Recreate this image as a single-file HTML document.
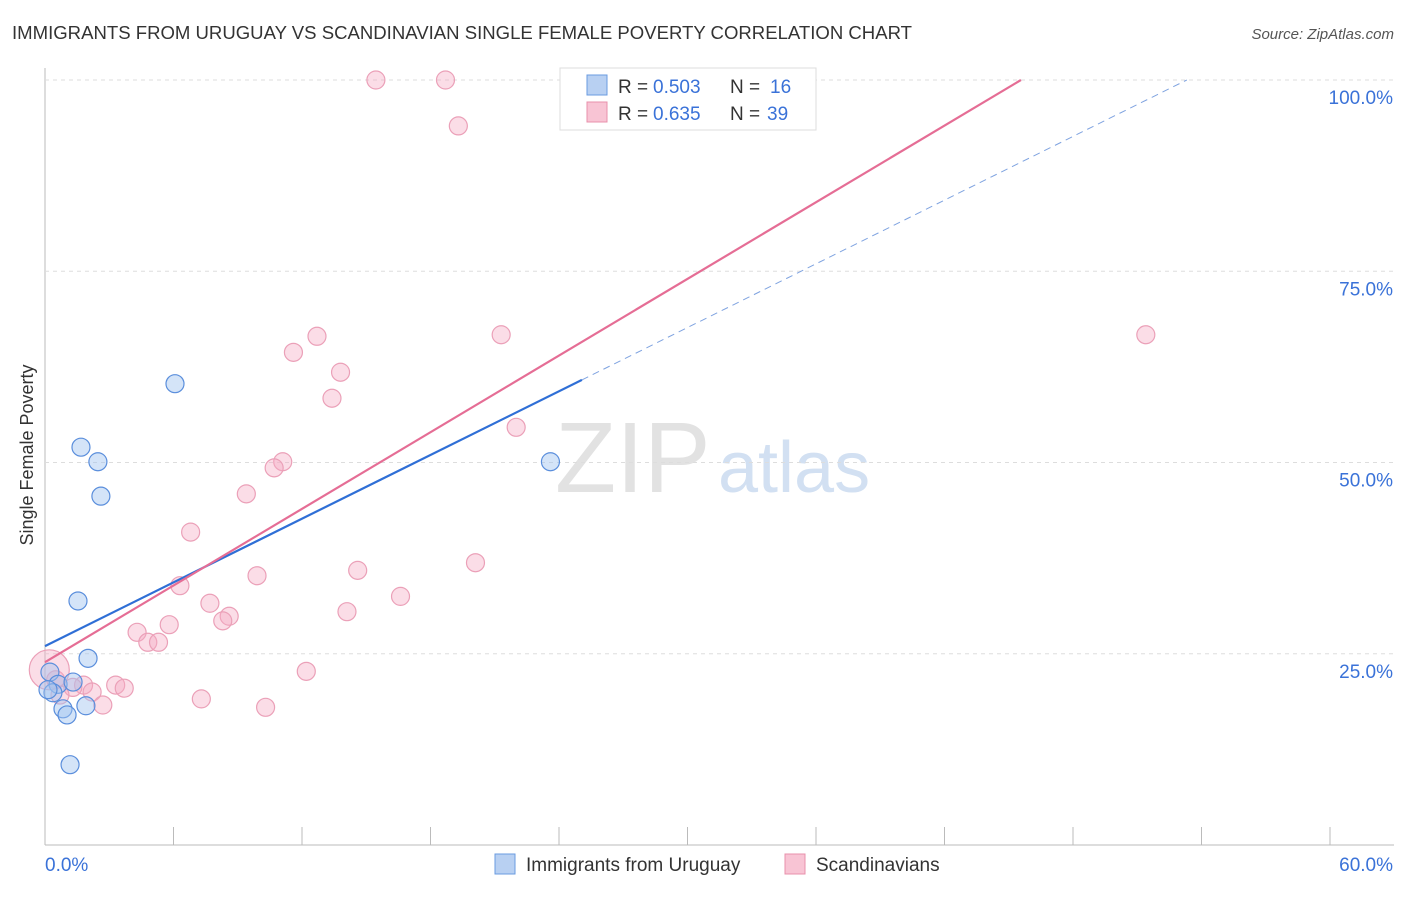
<!DOCTYPE html>
<html><head><meta charset="utf-8"><style>
body{margin:0;background:#fff;font-family:"Liberation Sans",sans-serif;}
svg text{font-family:"Liberation Sans",sans-serif;}
</style></head><body>
<svg id="c" width="1406" height="892">
<text x="12" y="39" font-size="18" fill="#333" textLength="900" lengthAdjust="spacingAndGlyphs">IMMIGRANTS FROM URUGUAY VS SCANDINAVIAN SINGLE FEMALE POVERTY CORRELATION CHART</text>
<text x="1394" y="39" font-size="15" fill="#555" font-style="italic" text-anchor="end">Source: ZipAtlas.com</text>
<text x="33" y="455" font-size="18" fill="#333" text-anchor="middle" transform="rotate(-90 33 455)">Single Female Poverty</text>
<text x="555" y="492" font-size="100" fill="#e2e2e2" font-family="Liberation Serif,serif">ZIP</text>
<text x="718" y="492" font-size="72" fill="#d2e0f2">atlas</text>
<g id="grid"></g><g id="marks"></g>
<g>
<rect x="560" y="68" width="256" height="62" fill="#fff" stroke="#ddd"/>
<rect x="587" y="75" width="20" height="20" fill="#b8d0f2" stroke="#6a9be0"/>
<rect x="587" y="102" width="20" height="20" fill="#f8c4d4" stroke="#e890ab"/>
<text x="618" y="93" font-size="19" fill="#333">R = </text><text x="653" y="93" font-size="19" fill="#3a72d8">0.503</text>
<text x="730" y="93" font-size="19" fill="#333">N = </text><text x="770" y="93" font-size="19" fill="#3a72d8">16</text>
<text x="618" y="120" font-size="19" fill="#333">R = </text><text x="653" y="120" font-size="19" fill="#3a72d8">0.635</text>
<text x="730" y="120" font-size="19" fill="#333">N = </text><text x="767" y="120" font-size="19" fill="#3a72d8">39</text>
</g>
<g>
<rect x="495" y="854" width="20" height="20" fill="#b8d0f2" stroke="#6a9be0"/>
<text x="526" y="871" font-size="19" fill="#333">Immigrants from Uruguay</text>
<rect x="785" y="854" width="20" height="20" fill="#f8c4d4" stroke="#e890ab"/>
<text x="816" y="871" font-size="19" fill="#333">Scandinavians</text>
</g>
</svg>
<script>
const xTicks=[0,6,12,18,24,30,36,42,48,54,60];
const yTicks=[25,50,75,100];
const blueX=[6.07,1.68,2.47,2.61,1.54,2.01,0.23,0.61,1.31,0.37,0.84,1.03,1.91,1.17,23.6,0.14];
const blueY=[60.3,52.0,50.1,45.6,31.9,24.4,22.6,21.0,21.3,19.9,17.8,17.0,18.2,10.5,50.1,20.3];
const pinkX=[15.45,18.7,19.3,11.6,12.7,21.3,51.4,13.8,13.4,22.0,11.1,10.7,9.4,6.8,20.1,14.6,9.9,6.3,16.6,7.7,14.1,8.6,8.3,5.8,4.3,4.8,5.3,12.2,3.3,1.8,3.7,2.2,2.7,7.3,10.3,1.3,0.7,0.5,0.2];
const pinkY=[100,100,94.0,64.4,66.5,66.7,66.7,61.8,58.4,54.6,50.1,49.3,45.9,40.9,36.9,35.9,35.2,33.9,32.5,31.6,30.5,29.9,29.3,28.8,27.8,26.5,26.5,22.7,20.9,20.9,20.5,20.0,18.3,19.1,18.0,20.6,19.6,21.6,22.9];
const blueFit=[26.0,1.388], pinkFit=[23.9,1.67];
const blueSolidEnd=25.07;
const NS='http://www.w3.org/2000/svg';
const X=v=>45+v/60*1285, Y=v=>845-v/100*765;
function mk(t,a,p){const e=document.createElementNS(NS,t);for(const k in a)e.setAttribute(k,a[k]);p.appendChild(e);return e;}
const g=document.getElementById('grid'),m=document.getElementById('marks');
let ax=mk('line',{x1:45,y1:68,x2:45,y2:845,stroke:'#bbb'},g);


let bx=mk('line',{x1:45,y1:845,x2:1394,y2:845,stroke:'#bbb'},g);


yTicks.forEach(v=>{let l=mk('line',{x1:45,x2:1394,y1:Y(v),y2:Y(v),stroke:'#ddd','stroke-dasharray':'4,4'},g);


let t=mk('text',{x:1393,y:Y(v)+24,'font-size':19,fill:'#3a72d8','text-anchor':'end'},g);t.textContent=v.toFixed(1)+'%';

});
xTicks.forEach((v,i)=>{let l=mk('line',{x1:X(v),x2:X(v),y1:827,y2:845,stroke:'#bbb'},g);


if(i==0||i==xTicks.length-1){let t=mk('text',{x:i==0?45:1393,y:871,'font-size':19,fill:'#3a72d8','text-anchor':i==0?'start':'end'},g);t.textContent=v.toFixed(1)+'%';

}});
pinkX.forEach((x,i)=>{let c=mk('circle',{cx:X(x),cy:Y(pinkY[i]),r:i==pinkX.length-1?20:9,fill:'rgba(245,170,195,0.4)',stroke:'#eba0b8','stroke-width':1.2},m);

});
blueX.forEach((x,i)=>{let c=mk('circle',{cx:X(x),cy:Y(blueY[i]),r:9,fill:'rgba(160,195,240,0.45)',stroke:'#5a8edc','stroke-width':1.2},m);

});
function endX(f){return (100-f[0])/f[1];}
let bl=mk('line',{x1:X(0),y1:Y(blueFit[0]),x2:X(blueSolidEnd),y2:Y(blueFit[0]+blueFit[1]*blueSolidEnd),stroke:'#2f6fd6','stroke-width':2.2},m);


let bd=mk('line',{x1:X(blueSolidEnd),y1:Y(blueFit[0]+blueFit[1]*blueSolidEnd),x2:X(endX(blueFit)),y2:Y(100),stroke:'#7fa3e0','stroke-width':1,'stroke-dasharray':'7,5'},m);


let pl=mk('line',{x1:X(0),y1:Y(pinkFit[0]),x2:X(endX(pinkFit)),y2:Y(100),stroke:'#e56d95','stroke-width':2.2},m);


</script>
</body></html>
